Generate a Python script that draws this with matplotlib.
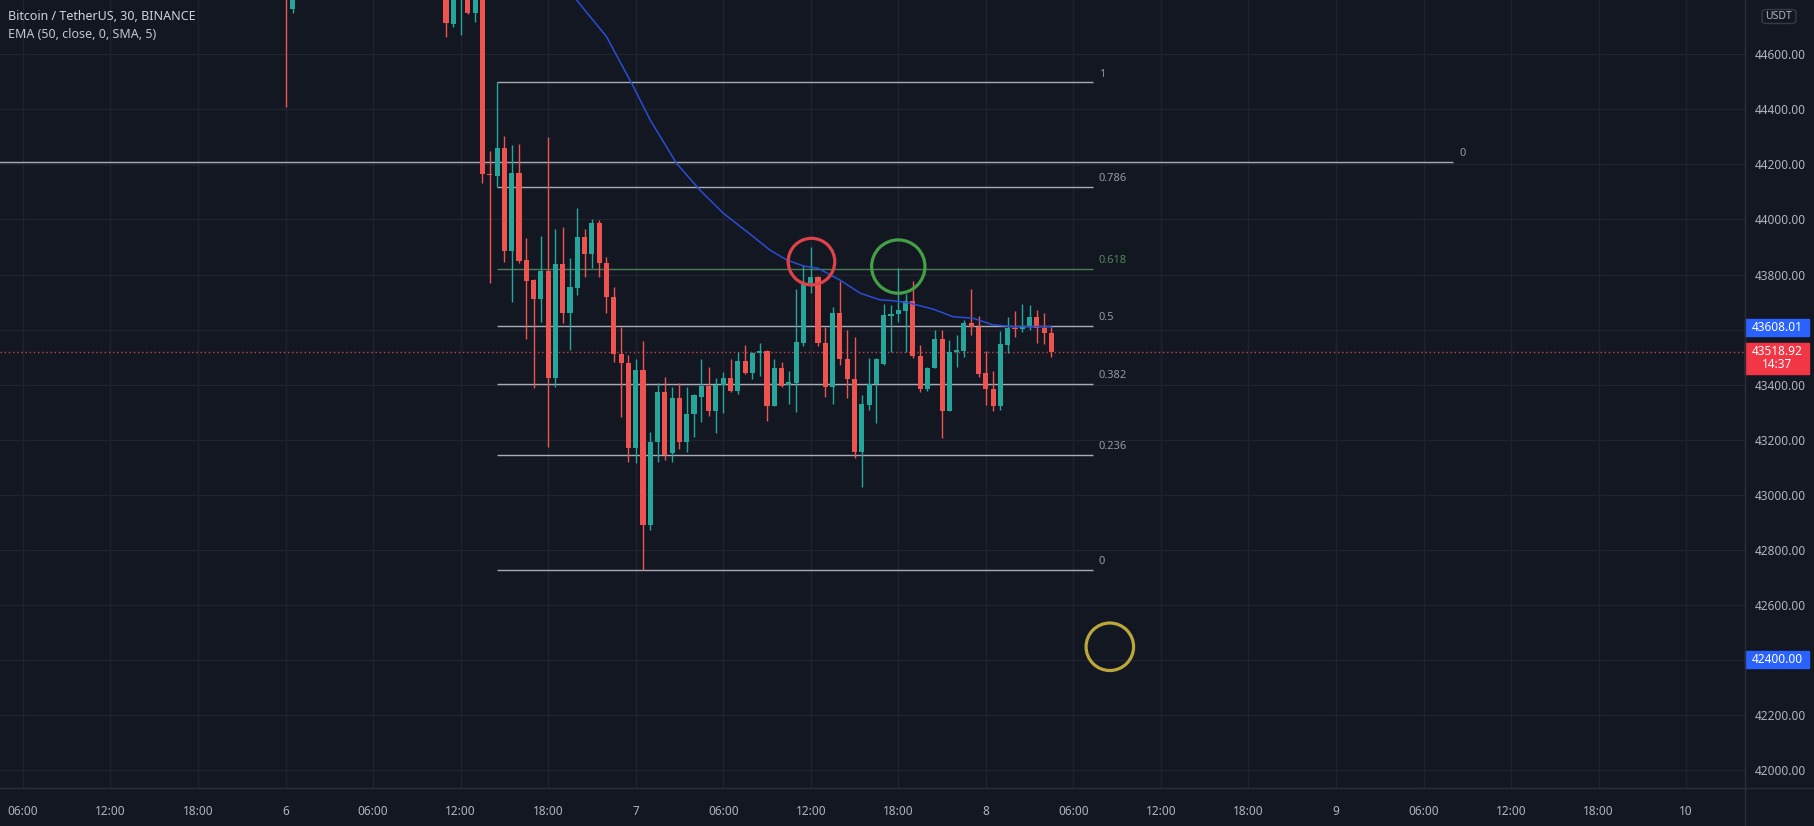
import numpy as np
import matplotlib.pyplot as plt
from matplotlib.patches import Rectangle, FancyBboxPatch
from matplotlib.lines import Line2D
import matplotlib.transforms as mtransforms

# BTCUSDT 30m candles, x = candle index counted from 6 Dec 00:00
idx = [0, 1, 22, 23, 24, 25, 26, 27, 28, 29, 30, 31, 32, 33, 34, 35, 36, 37, 38, 39,
       40, 41, 42, 43, 44, 45, 46, 47, 48, 49, 50, 51, 52, 53, 54, 55, 56, 57, 58, 59,
       60, 61, 62, 63, 64, 65, 66, 67, 68, 69, 70, 71, 72, 73, 74, 75, 76, 77, 78, 79,
       80, 81, 82, 83, 84, 85, 86, 87, 88, 89, 90, 91, 92, 93, 94, 95, 96, 97, 98, 99,
       100, 101, 102, 103, 104, 105]
opens = [44950, 44764, 44880, 44710, 44820, 44860, 44749, 44840, 44165, 44159, 44259, 43887, 44170, 43853, 43780, 43711, 43813, 43423, 43838, 43662,
         43751, 43935, 43874, 43989, 43843, 43717, 43512, 43478, 43169, 43453, 42890, 43190, 43375, 43151, 43351, 43193, 43294, 43357, 43395, 43305,
         43399, 43423, 43378, 43486, 43441, 43514, 43522, 43323, 43459, 43399, 43405, 43553, 43768, 43792, 43553, 43391, 43659, 43495, 43420, 43157,
         43327, 43403, 43475, 43649, 43656, 43669, 43705, 43504, 43386, 43459, 43565, 43306, 43517, 43523, 43625, 43611, 43441, 43386, 43323, 43544,
         43605, 43601, 43611, 43645, 43605, 43587]
highs = [44980, 44950, 44920, 44880, 44900, 44900, 44880, 44870, 44250, 44498, 44302, 44270, 44274, 43932, 43785, 43940, 44299, 43964, 43974, 43861,
         44040, 43964, 44000, 43997, 43863, 43756, 43611, 43508, 43492, 43560, 43229, 43405, 43429, 43392, 43405, 43391, 43366, 43492, 43463, 43426,
         43447, 43495, 43519, 43544, 43520, 43553, 43526, 43492, 43484, 43451, 43746, 43835, 43901, 43795, 43611, 43681, 43778, 43599, 43573, 43362,
         43496, 43496, 43693, 43689, 43823, 43731, 43776, 43544, 43465, 43599, 43599, 43562, 43580, 43635, 43746, 43650, 43524, 43451, 43596, 43646,
         43666, 43693, 43689, 43671, 43662, 43611]
lows = [44409, 44750, 44664, 44700, 44670, 44745, 44718, 44133, 43768, 44118, 43847, 43701, 43843, 43565, 43387, 43629, 43175, 43392, 43625, 43526,
        43726, 43792, 43823, 43792, 43659, 43484, 43282, 43120, 43114, 42727, 42872, 43120, 43127, 43120, 43165, 43157, 43211, 43266, 43286, 43226,
        43298, 43375, 43366, 43438, 43420, 43432, 43269, 43323, 43393, 43330, 43302, 43539, 43734, 43540, 43357, 43330, 43471, 43351, 43133, 43030,
        43309, 43262, 43471, 43520, 43628, 43520, 43496, 43374, 43378, 43459, 43205, 43303, 43465, 43500, 43580, 43427, 43326, 43306, 43309, 43516,
        43574, 43590, 43600, 43550, 43548, 43502]
closes = [44810, 44900, 44712, 44860, 44870, 44749, 44840, 44165, 44160, 44259, 43887, 44170, 43850, 43778, 43711, 43813, 43423, 43838, 43662, 43755,
          43935, 43874, 43989, 43843, 43717, 43512, 43478, 43169, 43453, 42890, 43193, 43375, 43145, 43351, 43193, 43294, 43361, 43395, 43305, 43399,
          43423, 43378, 43486, 43441, 43514, 43522, 43323, 43459, 43395, 43409, 43556, 43769, 43792, 43553, 43391, 43659, 43495, 43420, 43157, 43330,
          43403, 43492, 43653, 43656, 43671, 43705, 43504, 43386, 43459, 43565, 43306, 43517, 43527, 43625, 43608, 43439, 43386, 43323, 43548, 43605,
          43601, 43611, 43645, 43605, 43587, 43519]

# EMA(50)
ema_idx = [36, 39.9, 44.0, 47.7, 50.0, 53.6, 56.8, 60.0, 64.1, 66.4, 68.7, 71.0, 73.0, 76.0,
           78.8, 81.5, 83.3, 85.6, 88.8, 91.5, 94.3, 97.0, 99.8, 104.8, 105]
ema_val = [44930, 44797, 44664, 44482, 44361, 44204, 44107, 44023, 43938, 43889, 43853, 43831, 43823, 43780,
           43732, 43708, 43705, 43696, 43674, 43647, 43641, 43617, 43611, 43611, 43608]

# fib retracement
fib_ratios = ['1', '0.786', '0.618', '0.5', '0.382', '0.236', '0']
fib_high = 44498
fib_low = 42727
fib_start, fib_end = 29, 110.7
level_zero_top = 44208   # separate horizontal line labelled 0
level_zero_end = 160

last_price = 43518.92
ema_last = 43608.01
alert_price = 42400.00

# marked circles (candle idx, price)
circle_idx = [72.1, 84.0, 113.0]
circle_price = [43847, 43829, 42448]
circle_size = [1124, 1475, 1170]
circle_color = ['#e0424b', '#43a047', '#bba83a']

x_ticks = list(range(-36, 193, 12))
x_labels = ['06:00', '12:00', '18:00', '6', '06:00', '12:00', '18:00', '7', '06:00', '12:00',
            '18:00', '8', '06:00', '12:00', '18:00', '9', '06:00', '12:00', '18:00', '10']
y_ticks = list(range(42000, 44601, 200))
hidden_ticks = [43600, 42400]   # covered by the price tags

BG = '#131722'
GRID = '#1f2330'
UP = '#26a69a'
DOWN = '#ef5350'
TXT = '#b2b5be'
FIBC = '#a9acb5'

plt.rcParams['font.family'] = ['Noto Sans', 'DejaVu Sans']

W, H = 1814, 826
fig = plt.figure(figsize=(W / 100, H / 100), dpi=100, facecolor=BG)
ax = fig.add_axes([0, 38 / H, 1745 / W, 788 / H], facecolor=BG)
ax.set_xlim(-39.14, 200.07)
ax.set_ylim(41935, 44797.2)

ax.set_xticks(x_ticks)
ax.set_xticklabels(x_labels)
ax.set_yticks(y_ticks)
ax.set_yticklabels(['' if v in hidden_ticks else '%.2f' % v for v in y_ticks])
ax.yaxis.tick_right()
ax.tick_params(axis='x', length=0, pad=12, colors=TXT, labelsize=8.5)
ax.tick_params(axis='y', length=0, pad=7, colors=TXT, labelsize=8.5)
ax.grid(True, color=GRID, linewidth=1)
ax.set_axisbelow(True)
for s in ax.spines.values():
    s.set_visible(False)
ax.spines['right'].set_visible(True)
ax.spines['right'].set_color('#2a2e39')
ax.spines['bottom'].set_visible(True)
ax.spines['bottom'].set_color('#2a2e39')
fig.add_artist(Line2D([0, 1], [38 / H, 38 / H], color='#2a2e39', lw=1))
fig.add_artist(Line2D([1745 / W, 1745 / W], [0, 1], color='#2a2e39', lw=1))

# candles
o = np.array(opens, float)
c = np.array(closes, float)
cols = [UP if cc >= oo else DOWN for oo, cc in zip(o, c)]
ax.vlines(idx, lows, highs, colors=cols, linewidth=1, zorder=3)
bottoms = np.minimum(o, c)
heights = np.maximum(np.abs(c - o), 4)
ax.bar(idx, heights, bottom=bottoms, width=0.7, color=cols, linewidth=0, zorder=4)

# ema
ax.plot(ema_idx, ema_val, color='#2b4dd6', linewidth=1.1, zorder=5)

# last price dotted line
ax.axhline(last_price, color=DOWN, linewidth=1, linestyle=(0, (1, 2)), alpha=0.8, zorder=2)

# fib levels
rng = fib_high - fib_low
for r in fib_ratios:
    lvl = fib_low + float(r) * rng
    col = '#4d7d57' if r == '0.618' else FIBC
    tcol = '#4e8a55' if r == '0.618' else '#9598a1'
    ax.hlines(lvl, fib_start, fib_end, colors=col, linewidth=1, zorder=2)
    ax.annotate(r, xy=(fib_end + 0.8, lvl), xytext=(0, 2), textcoords='offset points',
                color=tcol, fontsize=8, ha='left', va='bottom')
ax.hlines(level_zero_top, -40, level_zero_end, colors=FIBC, linewidth=1, zorder=2)
ax.annotate('0', xy=(level_zero_end + 1, level_zero_top), xytext=(0, 2), textcoords='offset points',
            color='#9598a1', fontsize=8, ha='left', va='bottom')

# circles
ax.scatter(circle_idx, circle_price, s=circle_size, facecolors='none',
           edgecolors=circle_color, linewidths=2.3, zorder=6)

# price labels on the right scale
trans = mtransforms.blended_transform_factory(ax.transAxes, ax.transData)
bw = 64 / 1745
ppu = 788 / (44797.2 - 41935)


def price_box(y, hpx, color, lines):
    hh = hpx / ppu
    top = y + 8.5 / ppu
    ax.add_patch(Rectangle((1.0, top - hh), bw, hh, transform=trans, color=color,
                           clip_on=False, zorder=10))
    for i, t in enumerate(lines):
        ax.text(1.0 + bw / 2, y - i * 13 / ppu, t, transform=trans, color='white',
                fontsize=8.5, ha='center', va='center', clip_on=False, zorder=11,
                fontweight='bold' if i == 0 else 'normal')


price_box(ema_last, 17, '#2962ff', ['%.2f' % ema_last])
price_box(last_price, 31, '#f23645', ['%.2f' % last_price, '14:37'])
price_box(alert_price, 17, '#2962ff', ['%.2f' % alert_price])

# USDT tag
fig.add_artist(FancyBboxPatch((1762 / W, 1 - 23.5 / H), 34 / W, 14 / H,
                              boxstyle='round,pad=0,rounding_size=0.003',
                              transform=fig.transFigure, facecolor=BG, edgecolor='#363a45', lw=1))
fig.text(1779 / W, 1 - 16.5 / H, 'USDT', color=TXT, fontsize=7.5, ha='center', va='center')

# header
fig.text(8 / W, 1 - 16 / H, 'Bitcoin / TetherUS, 30, BINANCE', color='#d1d4dc', fontsize=9.0,
         fontweight='semibold', ha='left', va='center')
fig.text(8 / W, 1 - 34 / H, 'EMA (50, close, 0, SMA, 5)', color='#c3c6ce', fontsize=9.0,
         ha='left', va='center')

fig.savefig('out.png', dpi=100, facecolor=BG)
